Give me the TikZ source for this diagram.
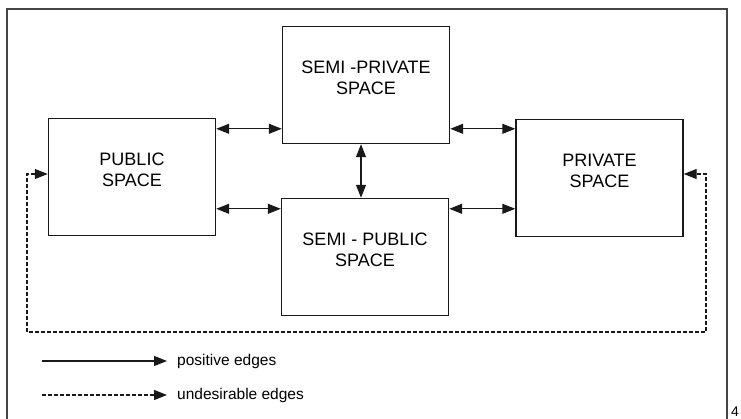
\documentclass[tikz,border=0pt]{standalone}
\usepackage{fontspec}
\setmainfont{Liberation Sans}
\usetikzlibrary{arrows.meta, positioning}
\definecolor{edgeline}{RGB}{25,25,25}
\definecolor{frameline}{RGB}{70,70,70}

\begin{document}
\begin{tikzpicture}[
    x=1pt, y=-1pt,
    node distance=10pt,
    space/.style={rectangle, draw=edgeline, line width=1.4pt, minimum width=167pt, minimum height=117pt, align=center, inner sep=0pt, text height=34pt, text depth=15pt, font=\fontsize{18}{21}\selectfont},
    posedge/.style={{Triangle[length=13pt,width=10pt]}-{Triangle[length=13pt,width=10pt]}, line width=1.2pt, draw=edgeline},
    badedge/.style={{Triangle[length=13pt,width=10pt]}-{Triangle[length=13pt,width=10pt]}, line width=1.2pt, draw=edgeline, dash pattern=on 4pt off 2pt},
    legendtext/.style={inner sep=0pt, anchor=west, font=\fontsize{15.5}{17}\selectfont}
]
\clip (0,0) rectangle (741,419);
% page frame
\draw[frameline, line width=1.1pt] (7,425) -- (7,9) -- (727,9) -- (727,425);
\node[anchor=base west, inner sep=0pt, font=\fontsize{14}{14}\selectfont] (pagenum) at (731,416) {4};

\node[space] (public) at (132,177) {PUBLIC\\SPACE};
\node[space] (semipriv) at (366,85) {SEMI -PRIVATE\\SPACE};
\node[space] (semipub) at (365,257) {SEMI - PUBLIC\\SPACE};
\node[space] (private) at (599.5,178) {PRIVATE\\SPACE};

\coordinate (upper) at ([yshift=-11pt]public.north);
\coordinate (lower) at ([yshift=-11pt]semipub.north);
\draw[posedge] (public.east |- upper) -- (semipriv.west |- upper);
\draw[posedge] (semipriv.east |- upper) -- (private.west |- upper);
\draw[posedge] (public.east |- lower) -- (semipub.west |- lower);
\draw[posedge] (semipub.east |- lower) -- (private.west |- lower);
\draw[posedge] ([xshift=-5pt]semipriv.south) -- ([xshift=-5pt]semipriv.south |- semipub.north);

% undesirable link round the bottom
\coordinate (loopleft) at (27,332);
\coordinate (loopright) at (706,332);
\draw[badedge] ([yshift=3pt]public.west) -- ([yshift=3pt]public.west -| loopleft) -- (loopleft) -- (loopright) -- ([yshift=4pt]private.east -| loopright) -- ([yshift=4pt]private.east);

% legend
\coordinate (posstart) at (42,361);
\coordinate (posend) at (167,361);
\coordinate (badstart) at (42,395);
\coordinate (badend) at (167,395);
\draw[line width=1.2pt, draw=edgeline, -{Triangle[length=13pt,width=10pt]}] (posstart) -- (posend);
\draw[line width=1.2pt, draw=edgeline, dash pattern=on 4pt off 2pt, -{Triangle[length=13pt,width=10pt]}] (badstart) -- (badend);
\node[legendtext, right=of posend] (poslabel) {positive edges};
\node[legendtext, right=of badend] (badlabel) {undesirable edges};
\end{tikzpicture}
\end{document}
